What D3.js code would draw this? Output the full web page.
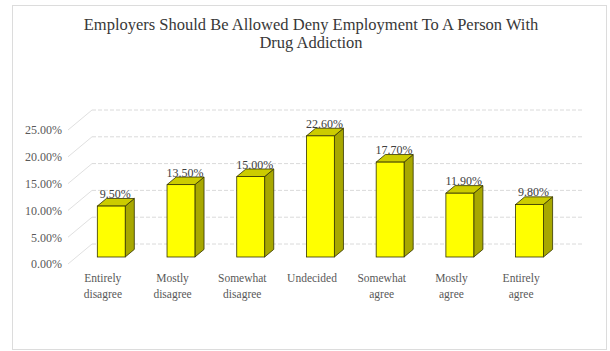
<!DOCTYPE html>
<html>
<head>
<meta charset="utf-8">
<script src="https://cdn.jsdelivr.net/npm/d3@7"></script>
<style>
  html, body { margin: 0; padding: 0; background: #fff; }
  svg { display: block; }
</style>
</head>
<body>
<svg id="chart" width="610" height="351"></svg>
<script>
// Survey responses, share of respondents
const categories = [
  ["Entirely", "disagree"],
  ["Mostly", "disagree"],
  ["Somewhat", "disagree"],
  ["Undecided"],
  ["Somewhat", "agree"],
  ["Mostly", "agree"],
  ["Entirely", "agree"]
];
const values = [9.5, 13.5, 15.0, 22.6, 17.7, 11.9, 9.8];
const yTicks = [0, 5, 10, 15, 20, 25];
const titleLines = [
  "Employers Should Be Allowed Deny Employment To A Person With",
  "Drug Addiction"
];

const serif = "Tinos, 'Times New Roman', Times, 'Liberation Serif', 'Noto Serif', 'DejaVu Serif', serif";
const svg = d3.select("#chart").style("font-family", serif);

// Chart frame
svg.append("rect")
  .attr("x", 12.5).attr("y", 5.5)
  .attr("width", 594).attr("height", 344)
  .attr("fill", "#fff").attr("stroke", "#dcdcdc");

// Title
svg.append("g").selectAll("text")
  .data(titleLines)
  .join("text")
  .attr("x", 311)
  .attr("y", (d, i) => 30 + i * 18)
  .attr("text-anchor", "middle")
  .attr("font-size", 16.5)
  .attr("fill", "#383838")
  .style("font-family", serif)
  .text(d => d);

// Oblique projection: depth goes right and up
const depthDX = 24, depthDY = -20;
const x = d3.scaleBand()
  .domain(d3.range(categories.length))
  .range([68, 556])
  .paddingInner(0.6)
  .paddingOuter(0.3);
const y = d3.scaleLinear().domain([0, 25]).range([264, 130]);

const grid = svg.append("g");
// back wall gridlines
grid.selectAll("line.back")
  .data(yTicks)
  .join("line")
  .attr("class", "back")
  .attr("x1", 68 + depthDX).attr("x2", 582)
  .attr("y1", d => y(d) + depthDY).attr("y2", d => y(d) + depthDY)
  .attr("stroke", "#dadada")
  .attr("stroke-dasharray", "4,2");
// side wall gridlines
grid.selectAll("line.side")
  .data(yTicks)
  .join("line")
  .attr("class", "side")
  .attr("x1", 68).attr("x2", 68 + depthDX)
  .attr("y1", d => y(d)).attr("y2", d => y(d) + depthDY)
  .attr("stroke", "#e0e0e0");

// Value axis labels
const yAxis = d3.axisLeft(y)
  .tickValues(yTicks)
  .tickFormat(d => d3.format(".2f")(d) + "%")
  .tickSize(0)
  .tickPadding(0);
const yg = svg.append("g")
  .attr("transform", "translate(62,0)")
  .call(yAxis);
yg.select(".domain").remove();
yg.selectAll("text")
  .attr("font-size", 12)
  .attr("fill", "#595959")
  .style("font-family", serif);

// Category labels on the front edge
const xg = svg.append("g");
categories.forEach((lines, i) => {
  const t = xg.append("text")
    .attr("x", x(i) + x.bandwidth() / 2)
    .attr("y", 282)
    .attr("text-anchor", "middle")
    .attr("font-size", 11.5)
    .attr("fill", "#595959")
    .style("font-family", serif);
  lines.forEach((ln, j) => {
    t.append("tspan")
      .attr("x", x(i) + x.bandwidth() / 2)
      .attr("dy", j === 0 ? 0 : 16)
      .text(ln);
  });
});

// 3D columns, set part way into the depth
const barOff = 0.35, barDepth = 0.38;
const ox = depthDX * barOff, oy = depthDY * barOff;
const bx = depthDX * barDepth, by = depthDY * barDepth;

const bars = svg.append("g").selectAll("g")
  .data(values)
  .join("g")
  .attr("transform", (d, i) => `translate(${x(i) + ox},${oy})`);

const w = x.bandwidth();
const base = y(0);

// right side face
bars.append("path")
  .attr("d", d => {
    const t = y(d);
    return `M${w},${base} L${w + bx},${base + by} L${w + bx},${t + by} L${w},${t} Z`;
  })
  .attr("fill", "#a8a800")
  .attr("stroke", "#333300").attr("stroke-width", 0.8)
  .attr("stroke-linejoin", "round");
// top face
bars.append("path")
  .attr("d", d => {
    const t = y(d);
    return `M0,${t} L${bx},${t + by} L${w + bx},${t + by} L${w},${t} Z`;
  })
  .attr("fill", "#cccc00")
  .attr("stroke", "#333300").attr("stroke-width", 0.8)
  .attr("stroke-linejoin", "round");
// front face
bars.append("rect")
  .attr("x", 0)
  .attr("y", d => y(d))
  .attr("width", w)
  .attr("height", d => base - y(d))
  .attr("fill", "#ffff00")
  .attr("stroke", "#333300").attr("stroke-width", 0.8);

// Data labels
bars.append("text")
  .attr("x", w / 2 + 4)
  .attr("y", d => y(d) - 8)
  .attr("text-anchor", "middle")
  .attr("font-size", 12)
  .attr("fill", "#404040")
  .style("font-family", serif)
  .text(d => d3.format(".2f")(d) + "%");
</script>
</body>
</html>
